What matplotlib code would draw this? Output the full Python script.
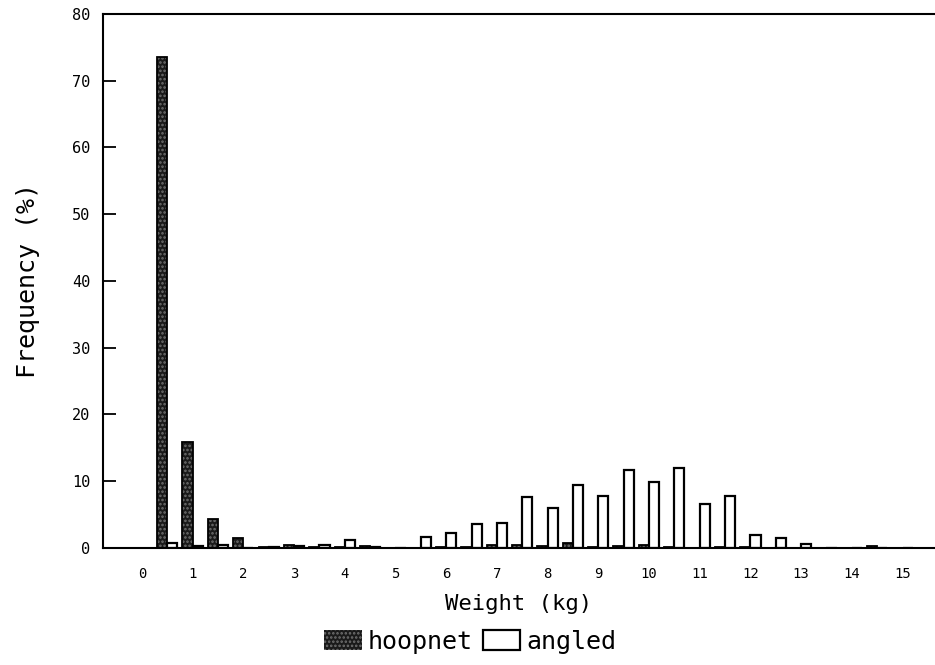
import matplotlib
matplotlib.use("Agg")
import matplotlib.pyplot as plt
import numpy as np

# %% Data (frequency % per 0.5 kg weight class)
weight_bins = np.arange(1, 31) * 0.5
hoopnet = [73.5, 15.8, 4.3, 1.5, 0.1, 0.5, 0.2, 0.2, 0.3, 0.0,
           0.0, 0.2, 0.1, 0.5, 0.5, 0.3, 0.7, 0.2, 0.3, 0.4,
           0.15, 0.0, 0.2, 0.1, 0.05, 0.0, 0.0, 0.0, 0.3, 0.0]
angled = [0.7, 0.3, 0.4, 0.0, 0.2, 0.3, 0.4, 1.2, 0.1, 0.0,
          1.6, 2.3, 3.6, 3.7, 7.7, 6.05, 9.45, 7.8, 11.7, 9.95,
          12.05, 6.6, 7.8, 1.9, 1.55, 0.65, 0.0, 0.0, 0.0, 0.0]
xticks = list(range(0, 16))
yticks = list(range(0, 81, 10))

# %% Plot
plt.rcParams['font.family'] = ['DejaVu Sans Mono', 'DejaVu Sans']
plt.rcParams['hatch.linewidth'] = 1.2

fig = plt.figure(figsize=(9.35, 6.65), dpi=100)
ax = fig.add_axes([0.110, 0.176, 0.89, 0.803])

w = 0.2
ax.bar(weight_bins - w / 2, hoopnet, width=w, facecolor='#1a1a1a',
       edgecolor='#707070', hatch='....', linewidth=0, label='hoopnet')
# black outline on top of the stippled fill
ax.bar(weight_bins - w / 2, hoopnet, width=w, fill=False,
       edgecolor='black', linewidth=1.3)
ax.bar(weight_bins + w / 2, angled, width=w, facecolor='white',
       edgecolor='black', linewidth=1.6, label='angled')

ax.set_xlim(-0.77, 15.64)
ax.set_ylim(0, 80)
ax.set_xticks(xticks)
ax.set_yticks(yticks)
ax.tick_params(axis='x', length=0, pad=14, labelsize=10)
ax.tick_params(axis='y', direction='in', length=9, width=1.3, pad=9, labelsize=11)

ax.spines['right'].set_visible(False)
for s in ['left', 'top', 'bottom']:
    ax.spines[s].set_linewidth(1.5)

ax.set_xlabel('Weight (kg)', fontsize=16, labelpad=9)
ax.set_ylabel('Frequency (%)', fontsize=18, labelpad=23)

fig.legend(loc='center', bbox_to_anchor=(0.503, 0.035), ncol=2, frameon=False,
           fontsize=18, handlelength=1.5, handleheight=0.9, handletextpad=0.25,
           columnspacing=0.4, borderpad=0)

fig.savefig('out.png', dpi=100)
